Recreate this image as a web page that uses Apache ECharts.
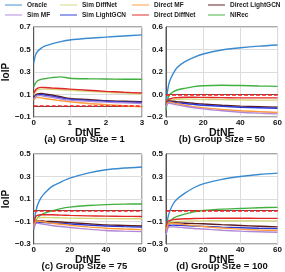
<!DOCTYPE html>
<html><head><meta charset="utf-8">
<script src="https://cdn.jsdelivr.net/npm/echarts@6/dist/echarts.min.js"></script>
<style>html,body{margin:0;padding:0;background:#fff}#c{width:285px;height:272px}</style>
</head><body><div id="c"></div>
<script>
const names = ['Oracle','Sim MF','Sim DiffNet','Sim LightGCN','Direct MF','Direct DiffNet','Direct LightGCN','NIRec'];
const colors = ['#3a8ad0','#b088d8','#d6d67e','#2838d8','#ff9a3c','#e02828','#5c1c1c','#40b040'];
const titles = ['(a) Group Size = 1','(b) Group Size = 50','(c) Group Size = 75','(d) Group Size = 100'];

const xA = [0, 0.05, 0.1, 0.2, 0.3, 0.5, 0.75, 1, 1.5, 2, 2.5, 3];
const xB = [0, 1, 2, 4, 6, 10, 15, 20, 30, 40, 50, 60];

const aOracle = [0.38,0.45,0.48,0.51,0.53,0.55,0.57,0.585,0.6,0.61,0.62,0.63];
const aSimMF = [0.06,0.08,0.09,0.09,0.085,0.075,0.06,0.05,0.04,0.032,0.026,0.02];
const aSimDiff = [0.1,0.125,0.14,0.148,0.148,0.146,0.142,0.138,0.128,0.12,0.112,0.105];
const aSimLG = [0.065,0.085,0.095,0.1,0.095,0.085,0.07,0.058,0.048,0.04,0.034,0.03];
const aDirMF = [0.05,0.07,0.075,0.07,0.065,0.055,0.045,0.035,0.02,0.01,0.0,-0.01];
const aDirDiff = [0.11,0.14,0.155,0.163,0.162,0.158,0.153,0.148,0.138,0.128,0.12,0.113];
const aDirLG = [0.07,0.095,0.105,0.11,0.105,0.095,0.08,0.065,0.055,0.045,0.04,0.035];
const aNIRec = [0.17,0.2,0.22,0.235,0.24,0.25,0.257,0.245,0.24,0.238,0.236,0.235];

const bOracle = [-0.1,0.05,0.12,0.19,0.24,0.29,0.33,0.36,0.395,0.415,0.43,0.44];
const bSimMF = [-0.11,-0.08,-0.078,-0.085,-0.092,-0.105,-0.118,-0.128,-0.145,-0.158,-0.166,-0.172];
const bSimDiff = [-0.08,-0.06,-0.05,-0.045,-0.042,-0.04,-0.042,-0.044,-0.046,-0.048,-0.05,-0.05];
const bSimLG = [-0.1,-0.07,-0.065,-0.07,-0.074,-0.08,-0.088,-0.095,-0.105,-0.113,-0.118,-0.122];
const bDirMF = [-0.1,-0.07,-0.068,-0.075,-0.082,-0.095,-0.108,-0.118,-0.133,-0.145,-0.153,-0.16];
const bDirDiff = [-0.07,-0.05,-0.04,-0.03,-0.028,-0.025,-0.025,-0.026,-0.028,-0.03,-0.03,-0.03];
const bDirLG = [-0.09,-0.065,-0.058,-0.06,-0.064,-0.07,-0.078,-0.085,-0.095,-0.103,-0.108,-0.112];
const bNIRec = [-0.14,-0.04,0.0,0.025,0.04,0.055,0.07,0.078,0.082,0.08,0.076,0.072];

const cOracle = [-0.15,-0.03,0.04,0.11,0.15,0.21,0.25,0.285,0.33,0.36,0.375,0.385];
const cSimMF = [-0.17,-0.12,-0.115,-0.12,-0.126,-0.135,-0.145,-0.153,-0.168,-0.18,-0.186,-0.19];
const cSimDiff = [-0.13,-0.08,-0.07,-0.065,-0.065,-0.066,-0.068,-0.07,-0.072,-0.074,-0.075,-0.076];
const cSimLG = [-0.16,-0.11,-0.105,-0.108,-0.11,-0.113,-0.118,-0.122,-0.132,-0.14,-0.146,-0.15];
const cDirMF = [-0.15,-0.1,-0.095,-0.1,-0.105,-0.115,-0.125,-0.133,-0.148,-0.16,-0.167,-0.172];
const cDirDiff = [-0.12,-0.06,-0.045,-0.04,-0.04,-0.04,-0.043,-0.046,-0.05,-0.052,-0.054,-0.055];
const cDirLG = [-0.15,-0.1,-0.095,-0.095,-0.097,-0.1,-0.105,-0.11,-0.12,-0.13,-0.135,-0.14];
const cNIRec = [-0.17,-0.1,-0.07,-0.04,-0.025,-0.005,0.015,0.028,0.042,0.05,0.054,0.056];

const dOracle = [-0.2,-0.07,-0.01,0.06,0.1,0.15,0.2,0.235,0.275,0.3,0.318,0.33];
const dSimMF = [-0.22,-0.16,-0.148,-0.148,-0.15,-0.155,-0.162,-0.167,-0.178,-0.186,-0.191,-0.195];
const dSimDiff = [-0.17,-0.12,-0.11,-0.103,-0.1,-0.097,-0.095,-0.094,-0.093,-0.093,-0.094,-0.095];
const dSimLG = [-0.2,-0.145,-0.135,-0.132,-0.133,-0.136,-0.14,-0.143,-0.15,-0.155,-0.16,-0.163];
const dDirMF = [-0.19,-0.13,-0.118,-0.116,-0.12,-0.128,-0.137,-0.145,-0.158,-0.168,-0.175,-0.18];
const dDirDiff = [-0.15,-0.1,-0.09,-0.083,-0.08,-0.076,-0.073,-0.072,-0.071,-0.071,-0.072,-0.072];
const dDirLG = [-0.18,-0.13,-0.118,-0.113,-0.113,-0.115,-0.118,-0.12,-0.128,-0.135,-0.142,-0.148];
const dNIRec = [-0.2,-0.13,-0.1,-0.07,-0.055,-0.035,-0.015,-0.002,0.01,0.016,0.022,0.026];

const yMins = [-0.1, -0.2, -0.3, -0.3];
const yMaxs = [0.7, 0.6, 0.5, 0.5];
const xMaxs = [3, 60, 60, 60];
const xIntervals = [1, 20, 20, 20];
const refLine = 0;

const panels = [
  {x: xA, s: [aOracle,aSimMF,aSimDiff,aSimLG,aDirMF,aDirDiff,aDirLG,aNIRec]},
  {x: xB, s: [bOracle,bSimMF,bSimDiff,bSimLG,bDirMF,bDirDiff,bDirLG,bNIRec]},
  {x: xB, s: [cOracle,cSimMF,cSimDiff,cSimLG,cDirMF,cDirDiff,cDirLG,cNIRec]},
  {x: xB, s: [dOracle,dSimMF,dSimDiff,dSimLG,dDirMF,dDirDiff,dDirLG,dNIRec]}
];

const FONT = 'Liberation Sans, Arial, sans-serif';
const grids = [
  {left: 27, width: 115, top: 27, height: 90},
  {left: 166, width: 112, top: 27, height: 90},
  {left: 27, width: 115, top: 154, height: 90},
  {left: 166, width: 112, top: 154, height: 90}
];
const drawOrder = [0, 7, 2, 5, 6, 3, 4, 1];

const series = [];
panels.forEach((p, pi) => {
  drawOrder.forEach((k) => {
    const s = {
      type: 'line', name: names[k], xAxisIndex: pi, yAxisIndex: pi,
      data: p.x.map((x, i) => [x, p.s[k][i]]),
      symbol: 'none', smooth: 0.3,
      lineStyle: {width: 1.4, color: colors[k]}, itemStyle: {color: colors[k]},
      z: 3
    };
    if (k === 7) {
      s.markLine = {silent: true, symbol: 'none', label: {show: false},
        lineStyle: {color: '#ff1a1a', type: [4, 2], width: 1.6}, data: [{yAxis: refLine}], z: 5};
    }
    series.push(s);
  });
});

const legendCols = [[0,1],[2,3],[4,5],[6,7]];
const legendLefts = [5, 60, 132, 208];
const legends = legendCols.map((col, ci) => ({
  data: col.map(k => names[k]), orient: 'vertical', left: legendLefts[ci], top: 1,
  icon: 'rect', itemWidth: 17, itemHeight: 1.6, itemGap: 2, padding: 0,
  itemStyle: {opacity: 0.6},
  textStyle: {fontSize: 6.5, fontWeight: 'bold', fontFamily: FONT, color: '#222', lineHeight: 8}
}));

const fmtY = v => (Math.abs(v) < 1e-9 ? '0.0' : v.toFixed(1)).replace('-', '\u2212');

const option = {
  animation: false,
  legend: legends,
  title: titles.map((t, i) => ({
    text: t, left: grids[i].left + grids[i].width / 2, top: grids[i].top + grids[i].height + 17,
    textAlign: 'center', padding: 0,
    textStyle: {fontSize: 9.5, fontWeight: 'bold', fontFamily: FONT, color: '#111'}
  })),
  grid: grids.map(g => Object.assign({show: true, borderColor: '#555', borderWidth: 1, containLabel: false}, g)),
  xAxis: grids.map((g, i) => ({
    type: 'value', gridIndex: i, min: 0, max: xMaxs[i], interval: xIntervals[i],
    name: 'DtNE', nameLocation: 'middle', nameGap: 8,
    nameTextStyle: {fontSize: 10.5, fontWeight: 'bold', fontFamily: FONT, color: '#111'},
    axisLine: {show: true, lineStyle: {color: '#555'}}, axisTick: {show: false},
    axisLabel: {fontSize: 8, fontWeight: 'bold', fontFamily: FONT, color: '#111', margin: 2},
    splitLine: {show: true, lineStyle: {color: '#dcdcdc', width: 1}}
  })),
  yAxis: grids.map((g, i) => ({
    type: 'value', gridIndex: i, min: yMins[i], max: yMaxs[i], interval: 0.2,
    name: (i % 2 === 0) ? 'IoIP' : '', nameLocation: 'middle', nameGap: 19,
    nameTextStyle: {fontSize: 10, fontWeight: 'bold', fontFamily: FONT, color: '#111'},
    axisLine: {show: true, lineStyle: {color: '#555'}}, axisTick: {show: false},
    axisLabel: {fontSize: 8, fontWeight: 'bold', fontFamily: FONT, color: '#111', margin: 3, formatter: fmtY},
    splitLine: {show: true, lineStyle: {color: '#dcdcdc', width: 1}}
  })),
  series: series
};
const chart = echarts.init(document.getElementById('c'), null, {renderer: 'canvas'});
chart.setOption(option);
</script></body></html>
